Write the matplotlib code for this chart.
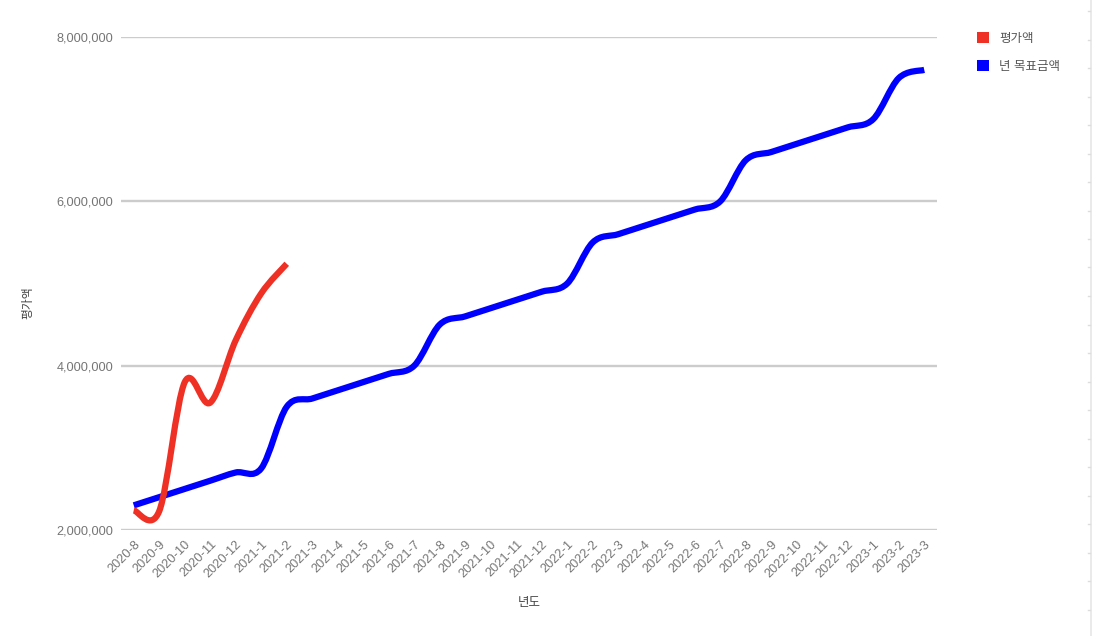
import matplotlib
matplotlib.use("Agg")
import matplotlib.pyplot as plt
import matplotlib.patches as mpatches
from matplotlib.path import Path
from matplotlib.patches import PathPatch
from matplotlib.lines import Line2D
import numpy as np

plt.rcParams["font.family"] = ["Liberation Sans", "Noto Sans CJK KR", "DejaVu Sans"]

# ── data ────────────────────────────────────────────────────────────────
months = [
    "2020-8", "2020-9", "2020-10", "2020-11", "2020-12",
    "2021-1", "2021-2", "2021-3", "2021-4", "2021-5", "2021-6", "2021-7",
    "2021-8", "2021-9", "2021-10", "2021-11", "2021-12",
    "2022-1", "2022-2", "2022-3", "2022-4", "2022-5", "2022-6", "2022-7",
    "2022-8", "2022-9", "2022-10", "2022-11", "2022-12",
    "2023-1", "2023-2", "2023-3",
]
valuation = [2240000, 2230000, 3800000, 3550000, 4310000, 4880000, 5240000]
target = [
    2300000, 2400000, 2500000, 2600000, 2700000,
    2750000, 3500000, 3600000, 3700000, 3800000, 3900000, 4000000,
    4500000, 4600000, 4700000, 4800000, 4900000,
    5000000, 5500000, 5600000, 5700000, 5800000, 5900000, 6000000,
    6500000, 6600000, 6700000, 6800000, 6900000,
    7000000, 7500000, 7600000,
]
y_ticks = [2000000, 4000000, 6000000, 8000000]

C_RED = "#ee3124"
C_BLUE = "#0000ff"
C_GRID = "#cccccc"
C_TXT = "#757575"

W, H = 1093, 636
fig = plt.figure(figsize=(W / 100, H / 100), dpi=100)
fig.patch.set_facecolor("white")
ax = fig.add_axes([121 / W, (H - 530) / H, 816 / W, 493 / H])

ax.set_xlim(-0.5, len(months) - 0.5)
ax.set_ylim(2000000, 8000000)
for s in ax.spines.values():
    s.set_visible(False)
ax.set_yticks(y_ticks)
ax.set_yticklabels([f"{v:,}" for v in y_ticks], color=C_TXT, fontsize=9.2)
ax.set_xticks(range(len(months)))
ax.set_xticklabels(months, rotation=45, ha="right", rotation_mode="anchor",
                   color=C_TXT, fontsize=9.2)
ax.tick_params(axis="y", length=0, pad=5.5)
ax.tick_params(axis="x", length=0, pad=6)
ax.grid(axis="y", color=C_GRID, lw=1.7)
ax.set_axisbelow(True)


def smooth_line(ax, ys, color, k=1 / 6):
    """Catmull-Rom style curve through the points, as cubic Bezier segments."""
    xs = np.arange(len(ys), dtype=float)
    pix = ax.transData.transform(np.column_stack([xs, ys]))
    n = len(pix)
    ext = np.vstack([pix[0], pix, pix[-1]])
    verts = [pix[0]]
    codes = [Path.MOVETO]
    for i in range(n - 1):
        p0, p1, p2, p3 = ext[i], ext[i + 1], ext[i + 2], ext[i + 3]
        verts += [p1 + k * (p2 - p0), p2 - k * (p3 - p1), p2]
        codes += [Path.CURVE4] * 3
    path = Path(ax.transData.inverted().transform(np.array(verts)), codes)
    ax.add_patch(PathPatch(path, fc="none", ec=color, lw=4.5,
                           capstyle="butt", joinstyle="round",
                           transform=ax.transData, clip_on=False, zorder=3))


smooth_line(ax, target, C_BLUE)
smooth_line(ax, valuation, C_RED)

fig.text(28 / W, 1 - 303 / H, "평가액", rotation=90, ha="center", va="center",
         fontsize=8.5, color="#444444")
fig.text(529 / W, 1 - 603 / H, "년도", ha="center", va="center",
         fontsize=9, color="#444444")

handles = [
    mpatches.Patch(fc=C_RED, ec="none", label="평가액"),
    mpatches.Patch(fc=C_BLUE, ec="none", label="년 목표금액"),
]
fig.legend(handles=handles, loc="upper left",
           bbox_to_anchor=(966 / W, 1 - 21 / H), frameon=False,
           fontsize=9, handlelength=0.95, handleheight=0.95,
           handletextpad=0.8, labelspacing=1.2, labelcolor="#555555")

# faint page edge on the right
fig.add_artist(Line2D([1090.5 / W, 1090.5 / W], [0, 1], color="#e6e6e6", lw=1.2))
for yy in np.arange(11, H, 28.5):
    fig.add_artist(Line2D([1088 / W, 1090 / W], [1 - yy / H] * 2,
                          color="#dddddd", lw=1))

fig.savefig("out.png", dpi=100)
